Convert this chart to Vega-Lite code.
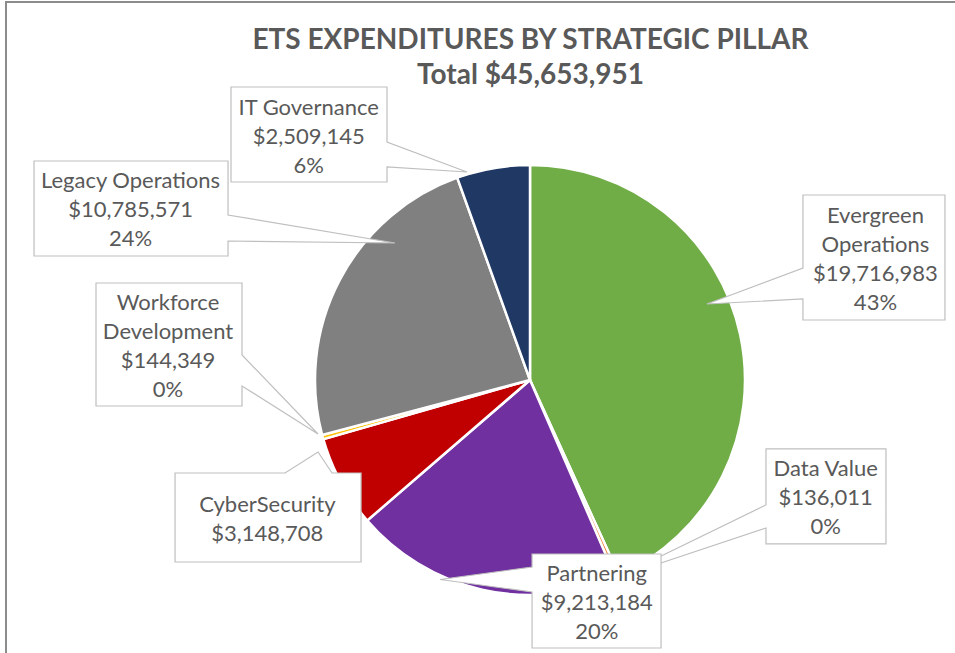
{
  "$schema": "https://vega.github.io/schema/vega-lite/v6.json",
  "width": 949,
  "height": 651,
  "autosize": {"type": "none"},
  "padding": {"left": 6, "top": 2, "right": 0, "bottom": 0},
  "title": {
    "text": ["ETS EXPENDITURES BY STRATEGIC PILLAR", "Total $45,653,951"],
    "font": "Lato",
    "fontSize": 28,
    "fontWeight": "bold",
    "color": "#595959",
    "lineHeight": 35,
    "anchor": "middle",
    "baseline": "alphabetic",
    "offset": 0,
    "dx": 50,
    "dy": 110
  },
  "data": {
    "values": [
      {"pillar": "Evergreen Operations", "amount": 19716983, "share": 43},
      {"pillar": "Data Value", "amount": 136011, "share": 0},
      {"pillar": "Partnering", "amount": 9213184, "share": 20},
      {"pillar": "CyberSecurity", "amount": 3148708, "share": 7},
      {"pillar": "Workforce Development", "amount": 144349, "share": 0},
      {"pillar": "Legacy Operations", "amount": 10785571, "share": 24},
      {"pillar": "IT Governance", "amount": 2509145, "share": 6}
    ]
  },
  "transform": [
    {"window": [{"op": "row_number", "as": "idx"}]},
    {"joinaggregate": [{"op": "sum", "field": "amount", "as": "total"}]},
    {"window": [{"op": "sum", "field": "amount", "as": "cum"}], "sort": [{"field": "idx"}], "frame": [null, 0]},
    {"calculate": "2*PI*(datum.cum - datum.amount)/datum.total", "as": "a0"},
    {"calculate": "2*PI*datum.cum/datum.total", "as": "a1"},
    {"calculate": "(datum.a0 + datum.a1)/2", "as": "ang"},
    {"calculate": "195*sin(datum.ang)", "as": "ax"},
    {"calculate": "-195*cos(datum.ang)", "as": "ay"},
    {"calculate": "format(datum.amount, '$,')", "as": "usd"},
    {"calculate": "datum.pillar + '|' + datum.usd + '|' + datum.share + '%'", "as": "lbl"},
    {"calculate": "datum.pillar + ' ' + datum.usd + ' ' + datum.share + '%'", "as": "lblS"},
    {"calculate": "datum.pillar + '|' + datum.usd", "as": "lbl2"}
  ],
  "layer": [
    {
      "mark": {"type": "arc", "outerRadius": 215, "stroke": "#ffffff", "strokeWidth": 2.5},
      "encoding": {
        "x": {"datum": 0, "type": "quantitative", "scale": {"domain": [-524, 425], "nice": false, "zero": false}, "axis": null},
        "y": {"datum": 0, "type": "quantitative", "scale": {"domain": [-378, 273], "nice": false, "zero": false, "reverse": true}, "axis": null},
        "theta": {"field": "a0", "type": "quantitative", "scale": null},
        "theta2": {"field": "a1"},
        "color": {
          "field": "pillar",
          "type": "nominal",
          "scale": {
            "domain": ["Evergreen Operations", "Data Value", "Partnering", "CyberSecurity", "Workforce Development", "Legacy Operations", "IT Governance"],
            "range": ["#70AD47", "#ED7D31", "#7030A0", "#C00000", "#FFC000", "#808080", "#203864"]
          },
          "legend": null
        }
      }
    },
    {
      "transform": [{"filter": "datum.pillar === 'IT Governance'"}],
      "encoding": {
        "x": {"field": "ax", "type": "quantitative", "scale": {"domain": [-524, 425], "nice": false, "zero": false}, "axis": null},
        "y": {"field": "ay", "type": "quantitative", "scale": {"domain": [-378, 273], "nice": false, "zero": false, "reverse": true}, "axis": null}
      },
      "layer": [
        {"mark": {"type": "point", "shape": "M-265.5,-100.9L-109.5,-100.9L-109.5,-45.9L-29.5,-15.9L-109.5,-20.9L-109.5,-5.9L-265.5,-5.9Z", "size": 4, "filled": true, "fill": "#ffffff", "stroke": "#bfbfbf", "strokeWidth": 1.2, "opacity": 1}},
        {"mark": {"type": "text", "dx": -187.8, "dy": -80, "font": "Lato", "fontSize": 22, "color": "#595959", "lineHeight": 29, "align": "center", "baseline": "middle", "lineBreak": "|"}, "encoding": {"text": {"field": "lbl", "type": "nominal"}}}
      ]
    },
    {
      "transform": [{"filter": "datum.pillar === 'Legacy Operations'"}],
      "encoding": {
        "x": {"field": "ax", "type": "quantitative", "scale": {"domain": [-524, 425], "nice": false, "zero": false}, "axis": null},
        "y": {"field": "ay", "type": "quantitative", "scale": {"domain": [-378, 273], "nice": false, "zero": false, "reverse": true}, "axis": null}
      },
      "layer": [
        {"mark": {"type": "point", "shape": "M-323.3,-128.4L-129.3,-128.4L-129.3,-74.4L37.7,-46.4L-129.3,-48.4L-129.3,-33.4L-323.3,-33.4Z", "size": 4, "filled": true, "fill": "#ffffff", "stroke": "#bfbfbf", "strokeWidth": 1.2, "opacity": 1}},
        {"mark": {"type": "text", "dx": -226.8, "dy": -108.5, "font": "Lato", "fontSize": 22, "color": "#595959", "lineHeight": 29, "align": "center", "baseline": "middle", "lineBreak": "|"}, "encoding": {"text": {"field": "lbl", "type": "nominal"}}}
      ]
    },
    {
      "transform": [{"filter": "datum.pillar === 'Workforce Development'"}],
      "encoding": {
        "x": {"field": "ax", "type": "quantitative", "scale": {"domain": [-524, 425], "nice": false, "zero": false}, "axis": null},
        "y": {"field": "ay", "type": "quantitative", "scale": {"domain": [-378, 273], "nice": false, "zero": false, "reverse": true}, "axis": null}
      },
      "layer": [
        {"mark": {"type": "point", "shape": "M-246,-148.8L-100,-148.8L-100,-76.8L-24,2.2L-100,-45.8L-100,-25.8L-246,-25.8Z", "size": 4, "filled": true, "fill": "#ffffff", "stroke": "#bfbfbf", "strokeWidth": 1.2, "opacity": 1}},
        {"mark": {"type": "text", "dx": -174, "dy": -129, "font": "Lato", "fontSize": 22, "color": "#595959", "lineHeight": 29, "align": "center", "baseline": "middle", "lineBreak": " "}, "encoding": {"text": {"field": "lblS", "type": "nominal"}}}
      ]
    },
    {
      "transform": [{"filter": "datum.pillar === 'CyberSecurity'"}],
      "encoding": {
        "x": {"field": "ax", "type": "quantitative", "scale": {"domain": [-524, 425], "nice": false, "zero": false}, "axis": null},
        "y": {"field": "ay", "type": "quantitative", "scale": {"domain": [-378, 273], "nice": false, "zero": false, "reverse": true}, "axis": null}
      },
      "layer": [
        {"mark": {"type": "point", "shape": "M-183.4,0.3L-73.4,0.3L-40.4,-20.7L-26.4,0.3L2.6,0.3L2.6,89.3L-183.4,89.3Z", "size": 4, "filled": true, "fill": "#ffffff", "stroke": "#bfbfbf", "strokeWidth": 1.2, "opacity": 1}},
        {"mark": {"type": "text", "dx": -91.1, "dy": 32, "font": "Lato", "fontSize": 22, "color": "#595959", "lineHeight": 29, "align": "center", "baseline": "middle", "lineBreak": "|"}, "encoding": {"text": {"field": "lbl2", "type": "nominal"}}}
      ]
    },
    {
      "transform": [{"filter": "datum.pillar === 'Evergreen Operations'"}],
      "encoding": {
        "x": {"field": "ax", "type": "quantitative", "scale": {"domain": [-524, 425], "nice": false, "zero": false}, "axis": null},
        "y": {"field": "ay", "type": "quantitative", "scale": {"domain": [-378, 273], "nice": false, "zero": false, "reverse": true}, "axis": null}
      },
      "layer": [
        {"mark": {"type": "point", "shape": "M82.4,-143.6L224.4,-143.6L224.4,-18.6L82.4,-18.6L82.4,-39.6L-13.6,-34.6L82.4,-70.6Z", "size": 4, "filled": true, "fill": "#ffffff", "stroke": "#bfbfbf", "strokeWidth": 1.2, "opacity": 1}},
        {"mark": {"type": "text", "dx": 154.9, "dy": -123, "font": "Lato", "fontSize": 22, "color": "#595959", "lineHeight": 29, "align": "center", "baseline": "middle", "lineBreak": " "}, "encoding": {"text": {"field": "lblS", "type": "nominal"}}}
      ]
    },
    {
      "transform": [{"filter": "datum.pillar === 'Data Value'"}],
      "encoding": {
        "x": {"field": "ax", "type": "quantitative", "scale": {"domain": [-524, 425], "nice": false, "zero": false}, "axis": null},
        "y": {"field": "ay", "type": "quantitative", "scale": {"domain": [-378, 273], "nice": false, "zero": false, "reverse": true}, "axis": null}
      },
      "layer": [
        {"mark": {"type": "point", "shape": "M156.7,-109.2L276.7,-109.2L276.7,-14.2L156.7,-14.2L156.7,-30.2L6.7,19.8L156.7,-53.2Z", "size": 4, "filled": true, "fill": "#ffffff", "stroke": "#bfbfbf", "strokeWidth": 1.2, "opacity": 1}},
        {"mark": {"type": "text", "dx": 216.4, "dy": -89.5, "font": "Lato", "fontSize": 22, "color": "#595959", "lineHeight": 29, "align": "center", "baseline": "middle", "lineBreak": "|"}, "encoding": {"text": {"field": "lbl", "type": "nominal"}}}
      ]
    },
    {
      "transform": [{"filter": "datum.pillar === 'Partnering'"}],
      "encoding": {
        "x": {"field": "ax", "type": "quantitative", "scale": {"domain": [-524, 425], "nice": false, "zero": false}, "axis": null},
        "y": {"field": "ay", "type": "quantitative", "scale": {"domain": [-378, 273], "nice": false, "zero": false, "reverse": true}, "axis": null}
      },
      "layer": [
        {"mark": {"type": "point", "shape": "M45.5,-16.1L174.5,-16.1L174.5,77.9L45.5,77.9L45.5,21.9L-46.5,9.4L45.5,-3.1Z", "size": 4, "filled": true, "fill": "#ffffff", "stroke": "#bfbfbf", "strokeWidth": 1.2, "opacity": 1}},
        {"mark": {"type": "text", "dx": 110.2, "dy": 3.5, "font": "Lato", "fontSize": 22, "color": "#595959", "lineHeight": 29, "align": "center", "baseline": "middle", "lineBreak": "|"}, "encoding": {"text": {"field": "lbl", "type": "nominal"}}}
      ]
    }
  ],
  "config": {
    "view": {"stroke": "#8c8c8c", "strokeWidth": 2, "strokeDash": [949, 1600, 651]}
  }
}
